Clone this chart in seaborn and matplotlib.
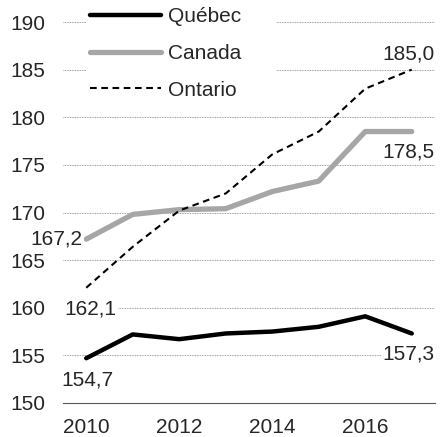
import numpy as np
import pandas as pd
import matplotlib.pyplot as plt
import matplotlib.ticker as mticker
import seaborn as sns

# Donnees
annees = [2010, 2011, 2012, 2013, 2014, 2015, 2016, 2017]
quebec = [154.7, 157.2, 156.7, 157.3, 157.5, 158.0, 159.1, 157.3]
canada = [167.2, 169.8, 170.3, 170.4, 172.2, 173.3, 178.5, 178.5]
ontario = [162.1, 166.4, 170.2, 172.0, 176.1, 178.5, 183.0, 185.0]
series = ["Québec", "Canada", "Ontario"]
etiquettes_x = ["2010", "2012", "2014", "2016"]

sns.set_style("white")
plt.rcParams["font.family"] = ["Liberation Sans", "DejaVu Sans"]

# Format long pour seaborn
pos = np.arange(len(annees))
df = pd.DataFrame({
    "pos": np.tile(pos, 3),
    "valeur": quebec + canada + ontario,
    "serie": np.repeat(series, len(annees)),
})

fig = plt.figure(figsize=(4.42, 4.37), dpi=100)
ax = fig.add_axes([63 / 442, 1 - 403 / 437, 372 / 442, 381 / 437])

styles = {
    "Québec": dict(color="black", lw=3.2, ls="-"),
    "Canada": dict(color="#a6a6a6", lw=3.8, ls="-"),
    "Ontario": dict(color="black", lw=1.5, ls=(0, (3.2, 2.2))),
}
for s in series:
    sous = df[df["serie"] == s]
    st = styles[s]
    sns.lineplot(data=sous, x="pos", y="valeur", ax=ax, color=st["color"],
                 linewidth=st["lw"], linestyle=st["ls"], label=s)

ax.set_xlim(-0.5, len(annees) - 0.5)
ax.set_ylim(150, 190)
ax.set_yticks(np.arange(150, 191, 5))
ax.set_xticks(pos[::2])
ax.set_xticklabels(etiquettes_x)
ax.xaxis.set_minor_locator(mticker.FixedLocator(np.arange(-0.5, len(annees), 1)))
ax.tick_params(axis="x", which="major", length=0, pad=11, labelsize=15)
ax.tick_params(axis="x", which="minor", length=4, width=0.8, color="#595959", direction="out")
ax.tick_params(axis="y", length=0, pad=13, labelsize=15)
ax.set_xlabel("")
ax.set_ylabel("")

for sp in ["top", "right", "left"]:
    ax.spines[sp].set_visible(False)
ax.spines["bottom"].set_color("#595959")
ax.spines["bottom"].set_linewidth(0.8)

ax.yaxis.grid(True, color="#7f7f7f", linewidth=0.6, linestyle=(0, (1, 1)))
ax.set_axisbelow(True)

# Legende sur fond blanc (masque le haut des lignes de grille)
leg = ax.legend(loc="upper left", bbox_to_anchor=(86 / 442, 1 - 3 / 437, 190 / 442, 0.0),
                bbox_transform=fig.transFigure, mode="expand", fontsize=15,
                frameon=True, facecolor="white", edgecolor="none", framealpha=1,
                handlelength=3.4, handletextpad=0.35, labelspacing=0.85,
                borderpad=0.2, borderaxespad=0)

# Etiquettes de valeurs
boite = dict(facecolor="white", edgecolor="none", pad=1)
ax.annotate(f"{canada[0]:.1f}".replace(".", ","), (pos[0], canada[0]),
            xytext=(-3, 0), textcoords="offset points", ha="right", va="center",
            fontsize=15, bbox=boite)
ax.annotate(f"{ontario[0]:.1f}".replace(".", ","), (pos[0], ontario[0]),
            xytext=(3, -15), textcoords="offset points", ha="center", va="center",
            fontsize=15, bbox=boite)
ax.annotate(f"{quebec[0]:.1f}".replace(".", ","), (pos[0], quebec[0]),
            xytext=(1, -16), textcoords="offset points", ha="center", va="center",
            fontsize=15, bbox=boite)
ax.annotate(f"{ontario[-1]:.1f}".replace(".", ","), (len(annees) - 0.5, ontario[-1]),
            xytext=(0, 11), textcoords="offset points", ha="right", va="center",
            fontsize=15, bbox=boite)
ax.annotate(f"{canada[-1]:.1f}".replace(".", ","), (len(annees) - 0.5, canada[-1]),
            xytext=(0, -15), textcoords="offset points", ha="right", va="center",
            fontsize=15, bbox=boite)
ax.annotate(f"{quebec[-1]:.1f}".replace(".", ","), (len(annees) - 0.5, quebec[-1]),
            xytext=(0, -15), textcoords="offset points", ha="right", va="center",
            fontsize=15, bbox=boite)

fig.savefig("out.png", dpi=100)
